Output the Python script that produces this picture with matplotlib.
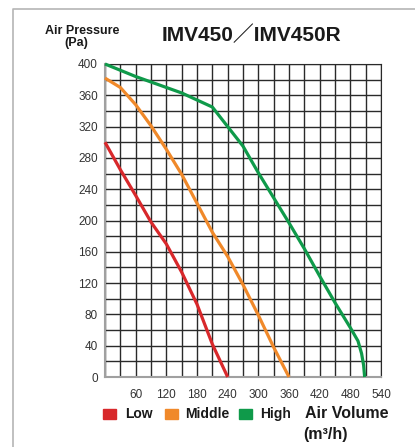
import matplotlib
matplotlib.use('Agg')
import matplotlib.pyplot as plt
from matplotlib.lines import Line2D
from matplotlib.patches import Rectangle

# air volume (m3/h) vs air pressure (Pa)
LOW_X = [0, 30, 60, 90, 120, 150, 180, 210, 240]
LOW_Y = [300, 265, 232, 198, 170, 134, 93, 42, 0]

MID_X = [0, 30, 60, 90, 120, 150, 180, 210, 240, 270, 300, 330, 360]
MID_Y = [382, 370, 348, 321, 291, 259, 222, 185, 154, 118, 79, 38, 0]

HIGH_X = [0, 30, 60, 90, 120, 150, 180, 210, 240, 270, 300, 330, 360, 390,
          420, 450, 480, 495, 502, 506, 508]
HIGH_Y = [400, 392, 384, 377, 370, 363, 354, 345, 320, 295, 261, 229, 197,
          164, 129, 95, 63, 46, 30, 15, 0]

XTICKS = [60, 120, 180, 240, 300, 360, 420, 480, 540]
YTICKS = [0, 40, 80, 120, 160, 200, 240, 280, 320, 360, 400]

SERIES = ['Low', 'Middle', 'High']
COLORS = ['#d8282b', '#f0892a', '#0f9a4a']

FONT = ['Liberation Sans', 'Noto Sans CJK SC', 'DejaVu Sans']
plt.rcParams['font.family'] = FONT

W, H = 415, 447
fig = plt.figure(figsize=(W / 100, H / 100), dpi=100)
ax = fig.add_axes([105 / W, 1 - 377 / H, 276 / W, 313 / H])

for xs, ys, c in zip([LOW_X, MID_X, HIGH_X], [LOW_Y, MID_Y, HIGH_Y], COLORS):
    ax.plot(xs, ys, color=c, lw=2.3, solid_capstyle='butt', zorder=3,
            clip_on=False)

ax.set_xlim(0, 540)
ax.set_ylim(0, 400)
ax.set_xticks(XTICKS)
ax.set_xticks(range(0, 541, 30), minor=True)
ax.set_yticks(YTICKS)
ax.set_yticks(range(0, 401, 20), minor=True)
ax.grid(which='both', color='#2a2a2a', lw=1.0)
ax.tick_params(which='both', length=0)
ax.tick_params(axis='x', pad=9, labelsize=8.5, labelcolor='#333333')
ax.tick_params(axis='y', pad=5, labelsize=8.5, labelcolor='#333333')
for s in ['top', 'right']:
    ax.spines[s].set_color('#2a2a2a')
for s in ['left', 'bottom']:
    ax.spines[s].set_color('#a0a0a0')
    ax.spines[s].set_linewidth(1.5)

# outer frame lines
fig.add_artist(Line2D([13 / W, 13 / W, 1], [0, 1 - 9 / H, 1 - 9 / H],
                      color='#b5b5b5', lw=1.2))

fig.text(162 / W, 1 - 35 / H, 'IMV450／IMV450R', fontsize=15,
         fontweight='bold', ha='left', va='center', color='#1a1a1a')
fig.text(82 / W, 1 - 31 / H, 'Air Pressure', fontsize=9, fontweight='bold',
         ha='center', va='center', color='#1a1a1a')
fig.text(76 / W, 1 - 43 / H, '(Pa)', fontsize=9, fontweight='bold',
         ha='center', va='center', color='#1a1a1a')

# legend
sq_x = [103, 165, 239]
tx_x = [125, 185, 260]
for lab, c, sx, tx in zip(SERIES, COLORS, sq_x, tx_x):
    fig.add_artist(Rectangle((sx / W, 1 - 419 / H), 13 / W, 10 / H,
                             color=c, transform=fig.transFigure))
    fig.text(tx / W, 1 - 414 / H, lab, fontsize=10, fontweight='bold',
             ha='left', va='center', color='#1a1a1a')

fig.text(305 / W, 1 - 413 / H, 'Air Volume', fontsize=11.5,
         fontweight='bold', ha='left', va='center', color='#1a1a1a')
fig.text(303 / W, 1 - 434 / H, '(m³/h)', fontsize=11.5,
         fontweight='bold', ha='left', va='center', color='#1a1a1a')

fig.savefig('out.png', dpi=100)
